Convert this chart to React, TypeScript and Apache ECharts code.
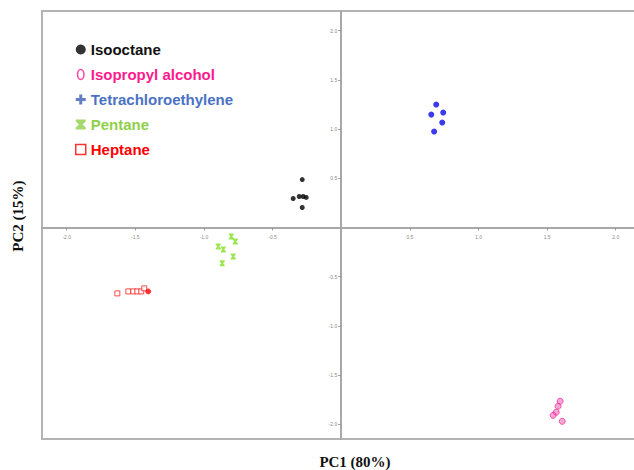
import React, { useEffect, useRef } from "react";
import * as echarts from "echarts";

const seriesNames = ["Isooctane", "Isopropyl alcohol", "Tetrachloroethylene", "Pentane", "Heptane"];

const isooctane: number[][] = [
  [-0.284, 0.487], [-0.35, 0.294], [-0.306, 0.315], [-0.277, 0.315], [-0.255, 0.305], [-0.284, 0.203],
];
const isopropylAlcohol: number[][] = [
  [1.595, -1.766], [1.58, -1.817], [1.566, -1.878], [1.544, -1.909], [1.61, -1.97],
];
const tetrachloroethylene: number[][] = [
  [0.692, 1.249], [0.656, 1.147], [0.743, 1.168], [0.736, 1.066], [0.677, 0.975],
];
const pentane: number[][] = [
  [-0.801, -0.091], [-0.772, -0.142], [-0.896, -0.193], [-0.859, -0.223], [-0.787, -0.294], [-0.867, -0.365],
];
const heptane: number[][] = [
  [-1.631, -0.67], [-1.551, -0.65], [-1.515, -0.65], [-1.486, -0.65], [-1.457, -0.65], [-1.435, -0.619], [-1.406, -0.65],
];

const tickValues = [-2, -1.5, -1, -0.5, 0.5, 1, 1.5, 2];
const xTitle = "PC1 (80%)";
const yTitle = "PC2 (15%)";

const crossPath = "path://M3.5,0h3v3.5h3.5v3h-3.5v3.5h-3v-3.5h-3.5v-3h3.5z";
const hourglassPath = "path://M0,0h10v2l-3.2,3l3.2,3v2h-10v-2l3.2,-3l-3.2,-3z";
const ovalPath = "path://M5,0A3.2,5 0 1 1 5,10A3.2,5 0 1 1 5,0z";

const GRID = { left: 42, top: 11, right: 0, height: 428 };

export default function App() {
  const ref = useRef<HTMLDivElement>(null);
  useEffect(() => {
    if (!ref.current) return;
    const chart = echarts.init(ref.current, undefined, { renderer: "svg" });
    const axisCommon = {
      type: "value" as const,
      splitLine: { show: false },
      axisLine: { onZero: false, lineStyle: { color: "#a8a8a8", width: 2 } },
      axisTick: { show: true, length: 3, customValues: tickValues, lineStyle: { color: "#9a9a9a", width: 1 } },
      axisLabel: {
        customValues: tickValues,
        fontSize: 5,
        color: "#8a8a8a",
        fontFamily: "Arial",
        formatter: (v: number) => v.toFixed(1),
      },
    };
    const W = 634;
    const H = 470;
    const gridBottom = GRID.top + GRID.height;
    chart.setOption({
      animation: false,
      backgroundColor: "#ffffff",
      grid: { ...GRID, show: false, containLabel: false },
      xAxis: { ...axisCommon, position: "bottom", min: -2.18, max: 2.133, axisLabel: { ...axisCommon.axisLabel, margin: 7 } },
      yAxis: { ...axisCommon, position: "left", min: -2.15, max: 2.2, axisLabel: { ...axisCommon.axisLabel, margin: 4 } },
      legend: {
        orient: "vertical",
        left: 70,
        top: 37,
        itemWidth: 10,
        itemHeight: 10,
        itemGap: 10,
        textStyle: { fontSize: 15, fontWeight: "bold", fontFamily: "Liberation Sans", lineHeight: 15 },
        data: [
          { name: seriesNames[0], icon: "circle", itemStyle: { color: "#000000" }, textStyle: { color: "#111111" } },
          { name: seriesNames[1], icon: ovalPath, itemStyle: { color: "#ffffff", borderColor: "#ff1a8c", borderWidth: 1.5 }, textStyle: { color: "#ff1a8c" } },
          { name: seriesNames[2], icon: crossPath, itemStyle: { color: "#3a5fb0" }, textStyle: { color: "#4a72c4" } },
          { name: seriesNames[3], icon: hourglassPath, itemStyle: { color: "#8fd04a" }, textStyle: { color: "#8fd04a" } },
          { name: seriesNames[4], icon: "rect", itemStyle: { color: "#ffffff", borderColor: "#ff0000", borderWidth: 1.5 }, textStyle: { color: "#ff0000" } },
        ],
      },
      series: [
        {
          name: seriesNames[0], type: "scatter", data: isooctane, symbol: "circle", symbolSize: 5,
          itemStyle: { color: "#000000" },
        },
        {
          name: seriesNames[1], type: "scatter", data: isopropylAlcohol, symbol: "circle", symbolSize: 6,
          itemStyle: { color: "rgba(240,70,170,0.6)", borderColor: "#f0309a", borderWidth: 1 },
        },
        {
          name: seriesNames[2], type: "scatter", data: tetrachloroethylene, symbol: "circle", symbolSize: 6,
          itemStyle: { color: "#0a0ae8" },
        },
        {
          name: seriesNames[3], type: "scatter", data: pentane, symbol: hourglassPath, symbolSize: [5, 6],
          itemStyle: { color: "#7fe020" },
        },
        {
          name: seriesNames[4], type: "scatter", data: heptane,
          symbol: (_v: any, p: any) => (p.dataIndex === heptane.length - 1 ? "circle" : "rect"),
          symbolSize: 5,
          itemStyle: {
            color: (p: any) => (p.dataIndex === heptane.length - 1 ? "#ff0000" : "#ffffff"),
            borderColor: "#ff2020",
            borderWidth: 1,
          },
        },
      ],
      graphic: [
        {
          type: "polyline", silent: true, z: 0,
          shape: { points: [[W + 2, GRID.top], [GRID.left, GRID.top], [GRID.left, gridBottom], [W + 2, gridBottom]] },
          style: { stroke: "#b4b4b4", lineWidth: 2, fill: "none" },
        },
        {
          type: "text", x: 355, y: 462,
          style: { text: xTitle, fontSize: 15, fontWeight: "bold", fontFamily: "Liberation Serif", fill: "#111", align: "center", verticalAlign: "middle" },
        },
        {
          type: "text", x: 18, y: 216, rotation: Math.PI / 2,
          style: { text: yTitle, fontSize: 15, fontWeight: "bold", fontFamily: "Liberation Serif", fill: "#111", align: "center", verticalAlign: "middle" },
        },
      ],
    });
    // move both axes onto the zero lines of the other axis
    const zero = chart.convertToPixel({ gridIndex: 0 }, [0, 0]) as number[];
    chart.setOption({
      xAxis: { offset: -(gridBottom - zero[1]) },
      yAxis: { offset: -(zero[0] - GRID.left) },
    });
    void H;
    return () => chart.dispose();
  }, []);
  return <div ref={ref} style={{ position: "fixed", left: 0, top: 0, width: 634, height: 470, background: "#fff" }} />;
}
